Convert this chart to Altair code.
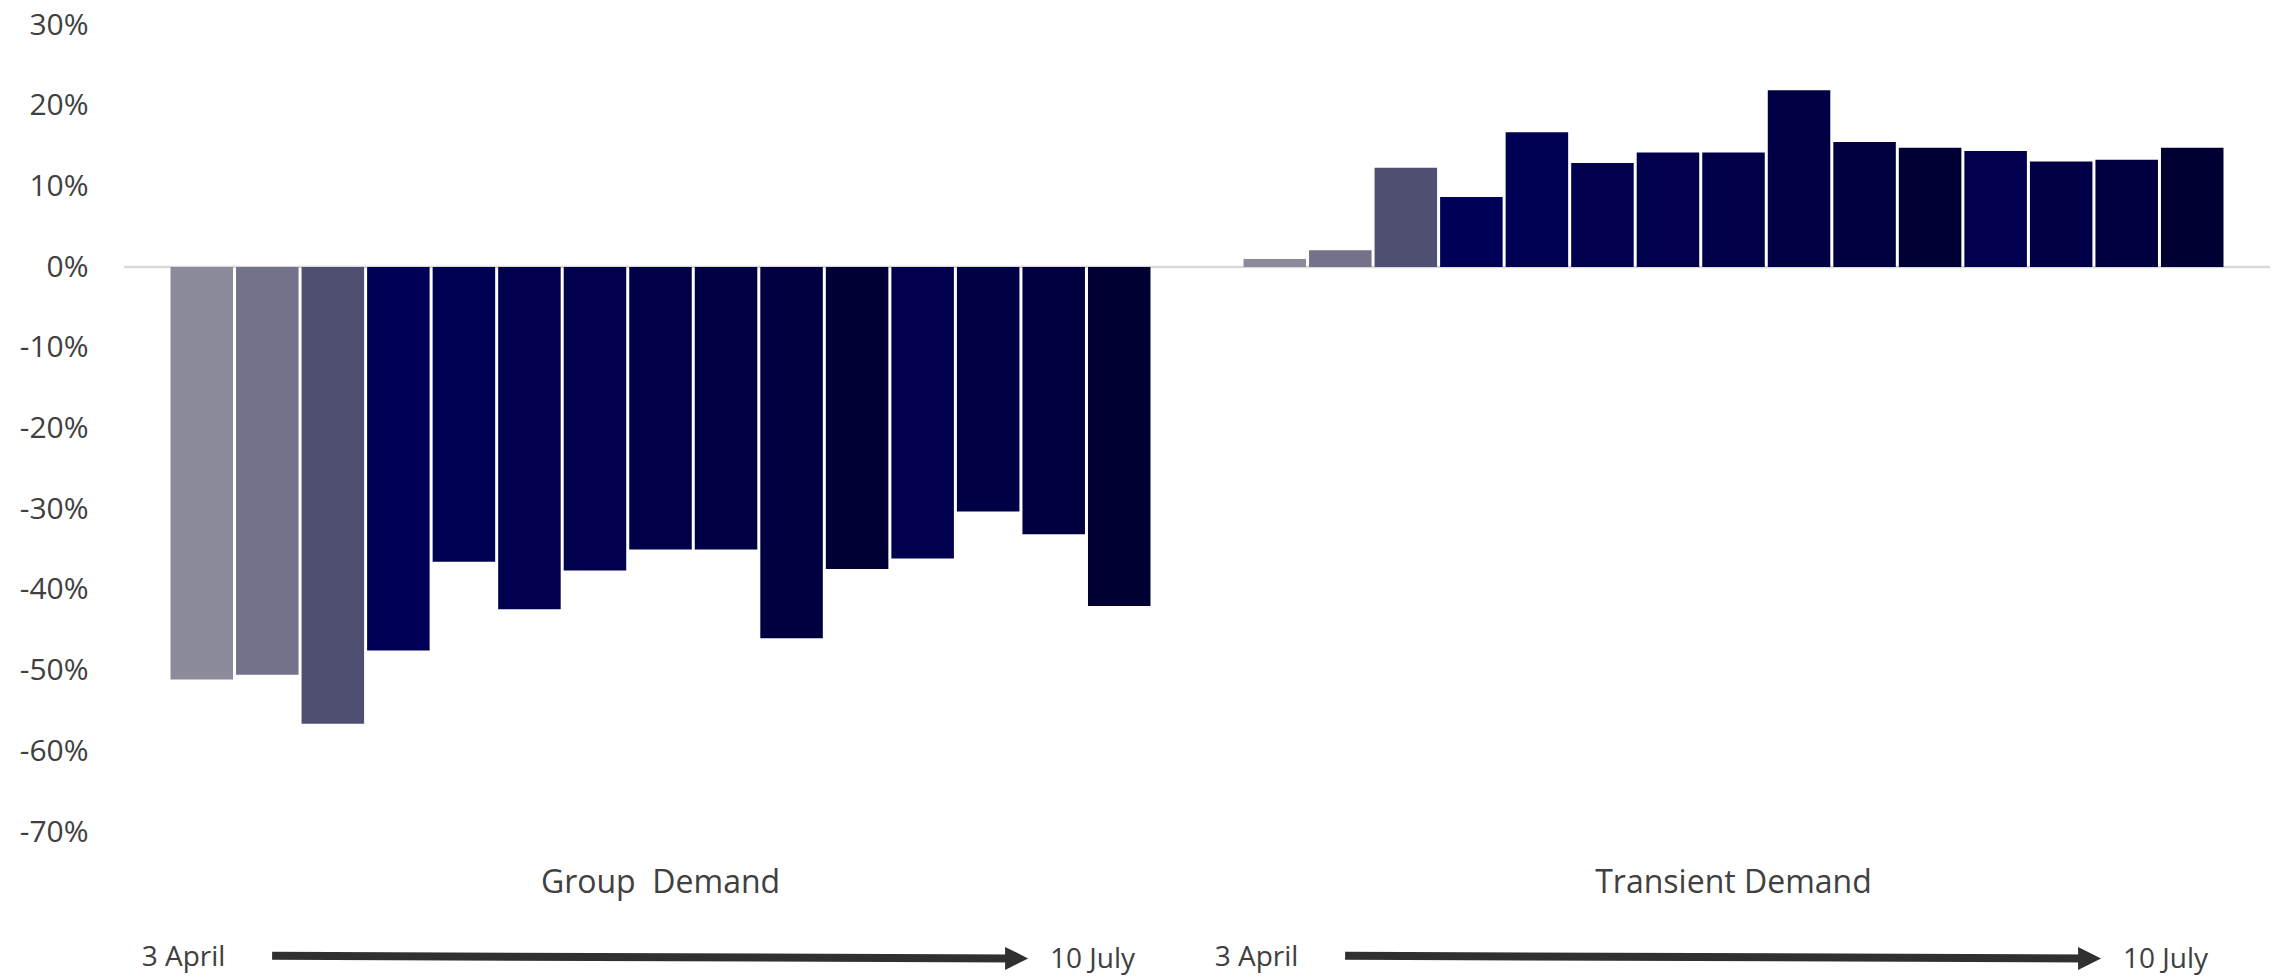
import altair as alt
import pandas as pd

# ---- data ----
categories = ["Group\u00a0 Demand", "Transient Demand"]
weeks = ["3 Apr", "10 Apr", "17 Apr", "24 Apr", "1 May", "8 May", "15 May", "22 May",
         "29 May", "5 Jun", "12 Jun", "19 Jun", "26 Jun", "3 Jul", "10 Jul"]
group_demand = [-51.1, -50.5, -56.6, -47.5, -36.5, -42.4, -37.6, -35.0, -35.0,
                -46.0, -37.4, -36.1, -30.3, -33.1, -42.0]
transient_demand = [1.0, 2.1, 12.3, 8.7, 16.7, 12.9, 14.2, 14.2, 21.9,
                    15.5, 14.8, 14.4, 13.1, 13.3, 14.8]
week_colors = ["#8b8b9c", "#72728a", "#4f4f72", "#000056", "#000052", "#00004f",
               "#00004c", "#000048", "#000045", "#000040", "#000034", "#00004e",
               "#000046", "#000040", "#000033"]
period_start = "3 April"
period_end = "10 July"
y_ticks = [-0.7, -0.6, -0.5, -0.4, -0.3, -0.2, -0.1, 0.0, 0.1, 0.2, 0.3]

# ---- layout in "bar slot" units (clustered-column geometry) ----
n = len(weeks)
inner_pad = 0.046
outer_pad = 0.7096
cat_w = n - inner_pad + 2 * outer_pad
total_w = cat_w * len(categories)

rows = []
for c, (cat, vals) in enumerate(zip(categories, [group_demand, transient_demand])):
    for i, (w, v) in enumerate(zip(weeks, vals)):
        x0 = c * cat_w + outer_pad + i
        rows.append(dict(category=cat, week=w, x0=x0, x1=x0 + 1 - inner_pad,
                         value=v / 100.0, base=0.0))
bars_df = pd.DataFrame(rows)

labels_df = pd.DataFrame([dict(text=cat, x=c * cat_w + cat_w / 2, y=-0.776)
                          for c, cat in enumerate(categories)])
start_df = pd.DataFrame([dict(text=period_start, x=c * cat_w + 0.27, y=-0.866)
                         for c in range(len(categories))])
end_df = pd.DataFrame([dict(text=period_end, x=c * cat_w + 14.13, y=-0.869)
                       for c in range(len(categories))])
arrow_df = pd.DataFrame([dict(x=c * cat_w + 2.26, x2=c * cat_w + 13.62,
                              y=-0.8535, y2=-0.8566)
                         for c in range(len(categories))])
zero_df = pd.DataFrame([dict(x=0.0, x2=total_w, y=0.0)])

xscale = alt.Scale(domain=[0, total_w], nice=False, zero=False)
yscale = alt.Scale(domain=[-0.7, 0.3], nice=False, zero=False)
yaxis = alt.Axis(values=y_ticks, domain=False, ticks=False, tickSize=0, grid=False,
                 labelPadding=36, labelFont="Open Sans", labelFontSize=30,
                 labelColor="#404040", title=None,
                 labelExpr="(datum.value < -0.0001 ? '-' : '') + format(abs(datum.value), '.0%')")

zero_line = alt.Chart(zero_df).mark_rule(color="#d9d9d9", strokeWidth=2.5).encode(
    x=alt.X("x:Q", scale=xscale, axis=None),
    x2="x2:Q",
    y=alt.Y("y:Q", scale=yscale, axis=yaxis, title=None),
)

bars = alt.Chart(bars_df).mark_bar().encode(
    x=alt.X("x0:Q", scale=xscale, axis=None),
    x2="x1:Q",
    y=alt.Y("value:Q", scale=yscale, axis=yaxis, title=None),
    y2="base:Q",
    color=alt.Color("week:N", scale=alt.Scale(domain=weeks, range=week_colors), legend=None),
)

cat_labels = alt.Chart(labels_df).mark_text(
    align="center", baseline="alphabetic", font="Open Sans", fontSize=32, color="#404040"
).encode(
    x=alt.X("x:Q", scale=xscale, axis=None),
    y=alt.Y("y:Q", scale=yscale, axis=yaxis, title=None),
    text="text:N",
)

date_style = dict(align="left", baseline="alphabetic", font="Open Sans", fontSize=28,
                  color="#404040")
start_labels = alt.Chart(start_df).mark_text(**date_style).encode(
    x=alt.X("x:Q", scale=xscale, axis=None),
    y=alt.Y("y:Q", scale=yscale, axis=yaxis, title=None),
    text="text:N",
)
end_labels = alt.Chart(end_df).mark_text(**date_style).encode(
    x=alt.X("x:Q", scale=xscale, axis=None),
    y=alt.Y("y:Q", scale=yscale, axis=yaxis, title=None),
    text="text:N",
)

shafts = alt.Chart(arrow_df).mark_rule(color="#303030", strokeWidth=8, strokeCap="butt").encode(
    x=alt.X("x:Q", scale=xscale, axis=None),
    x2="x2:Q",
    y=alt.Y("y:Q", scale=yscale, axis=yaxis, title=None),
    y2="y2:Q",
)
heads = alt.Chart(arrow_df).mark_point(
    shape="M-1,-1L1,0L-1,1Z", filled=True, size=23 * 23, color="#303030", opacity=1
).encode(
    x=alt.X("x2:Q", scale=xscale, axis=None),
    y=alt.Y("y2:Q", scale=yscale, axis=yaxis, title=None),
)

chart = alt.layer(zero_line, bars, cat_labels, start_labels, end_labels, shafts, heads).properties(
    width=2146,
    height=807,
    autosize=alt.AutoSizeParams(type="none"),
    padding={"left": 116, "top": 17, "right": 0, "bottom": 146},
    background="white",
).configure_view(stroke=None)

chart.save("out.html", embed_options={"renderer": "svg", "actions": False})
